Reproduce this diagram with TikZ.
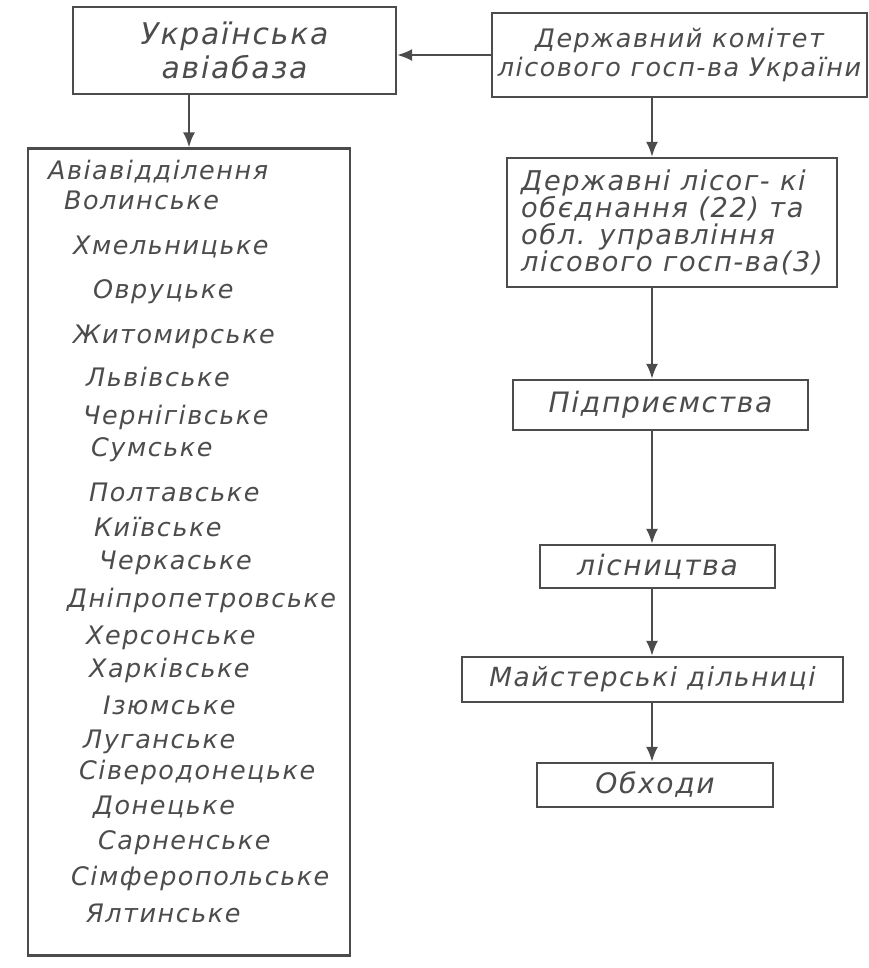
\documentclass[tikz,border=0pt]{standalone}
\usepackage{fontspec}
\usepackage{tikz}
\usetikzlibrary{arrows.meta}
\newfontfamily\hand[LetterSpace=6]{DejaVu Sans}
\def\handsize{\fontsize{14.5}{15}\selectfont}
\def\bigsize{\fontsize{16}{17}\selectfont}
\definecolor{pencil}{gray}{0.30}

\begin{document}
\begin{tikzpicture}[x=0.02cm,y=-0.02cm,>={Latex[length=3mm,width=2.4mm]},line width=1.3pt]
    \tikzstyle{box}=[rectangle,draw=pencil,line width=1.3pt,inner sep=0pt,text=pencil,font=\hand\itshape\bigsize]
    \tikzstyle{top box}=[box,align=center]
    \tikzstyle{item}=[anchor=west,inner sep=0pt,text=pencil,font=\hand\itshape\handsize]
    \tikzstyle{link}=[->,draw=pencil]

    \useasboundingbox (0,0) rectangle (869,968);

    % Draw the two top boxes
    \node[top box,font=\hand\itshape\fontsize{17}{19}\selectfont,minimum width=6.46cm,minimum height=1.74cm]
        (A) at (234.5,50.5) {Українська\\авіабаза};
    \node[top box,font=\hand\itshape\fontsize{14.5}{17}\selectfont,minimum width=7.5cm,minimum height=1.68cm]
        (B) at (679.5,55) {Державний комітет\\лісового госп-ва України};

    % Draw the list of air units
    \node[box,minimum width=6.44cm,minimum height=16.14cm] (L) at (189,552) {};
    \node[item] (L-0) at (47,172) {Авіавідділення};
    \foreach \x/\y/\name [count=\i] in {63/200/Волинське,72/247/Хмельницьке,92/292/Овруцьке,
        72/337/Житомирське,85/377/Львівське,82/417/Чернігівське,90/450/Сумське,
        88/492/Полтавське,93/527/Київське,98/563/Черкаське,66/600/Дніпропетровське,
        85/638/Херсонське,88/670/Харківське,102/705/Ізюмське,82/742/Луганське,
        78/772/Сіверодонецьке,92/807/Донецьке,97/843/Сарненське,70/878/Сімферопольське,
        85/913/Ялтинське}
        \node[item] (L-\i) at (\x,\y) {\name};

    % Draw the chain on the right
    \node[box,align=left,font=\hand\itshape\fontsize{15.5}{15.5}\selectfont,minimum width=6.6cm,minimum height=2.58cm]
        (C) at (672,222.5)
        {Державні лісог- кі\\ обєднання (22) та\\ обл. управління\\ лісового госп-ва(3)};
    \node[box,minimum width=5.9cm,minimum height=1.0cm] (D) at (660.5,405) {Підприємства};
    \node[box,minimum width=4.7cm,minimum height=0.86cm] (E) at (657.5,566.5) {лісництва};
    \node[box,font=\hand\itshape\fontsize{15}{16}\selectfont,minimum width=7.62cm,minimum height=0.9cm]
        (F) at (652.5,679.5) {Майстерські дільниці};
    \node[box,minimum width=4.72cm,minimum height=0.88cm] (G) at (655,785) {Обходи};
    \coordinate (axis) at (652,0);

    % Connect the boxes
    \draw[link] (B.west) -- (B.west -| A.east);
    \draw[link] (A.south -| L.north) -- (L.north);
    \foreach \source/\dest in {B/C,C/D,D/E,E/F,F/G}
        \draw[link] (\source.south -| axis) -- (\dest.north -| axis);
\end{tikzpicture}
\end{document}
